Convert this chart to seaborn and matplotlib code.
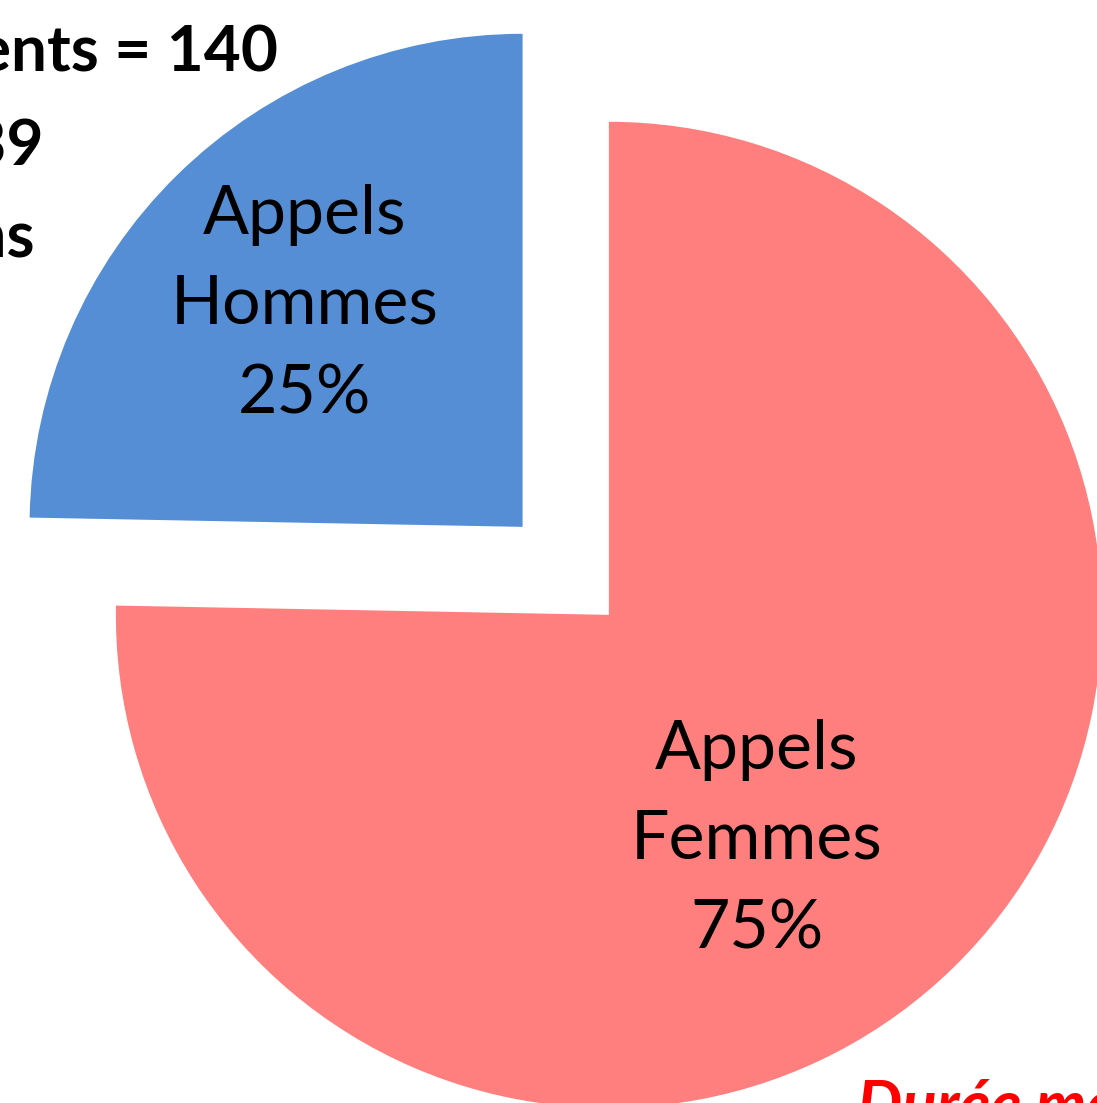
import matplotlib
matplotlib.use("Agg")
import matplotlib.pyplot as plt
import seaborn as sns

# data
categories = ["Hommes", "Femmes"]
shares = [24.7, 75.3]          # % of calls
colors = ["#558ED5", "#FF7F7F"]
explode = [0.25, 0.0]
# side notes (cut off in the reference)
notes = ["patients = 140", "= 139", "ans"]

sns.set_theme(style="white")
plt.rcParams['font.family'] = ['Lato', 'DejaVu Sans']

fig = plt.figure(figsize=(10.97, 11.03), dpi=100)
ax = fig.add_axes([0, 0, 1, 1])

def pct_label(p):
    i = 0 if p < 50 else 1
    return "Appels\n%s\n%.0f%%" % (categories[i], p)

wedges, texts, autotexts = ax.pie(
    shares, colors=colors, explode=explode, startangle=90,
    counterclock=True, autopct=pct_label, radius=1.0,
    wedgeprops=dict(linewidth=0),
    textprops=dict(fontsize=49, color="black", linespacing=1.56))

# place the wedge labels where the reference has them
autotexts[0].set_position((-0.617, 0.629))
autotexts[1].set_position((0.300, -0.456))
for t in autotexts:
    t.set_ha("center")
    t.set_va("center")

ax.set_xlim(-1.235, 0.990)
ax.set_ylim(-0.990, 1.247)
ax.set_aspect("auto")
ax.axis("off")

# partially visible annotations
ys = [0.9356, 0.8504, 0.7661]
xs = [0.2534, 0.0392, 0.0319]
for x, y, s in zip(xs, ys, notes):
    fig.text(x, y, s, ha="right", va="baseline", fontsize=46,
             fontweight="bold", color="black")
fig.text(0.781, -0.021, "Durée moyenne", ha="left", va="baseline",
         fontsize=46, fontweight="bold", fontstyle="italic", color="red")

plt.savefig("out.png", dpi=100)
